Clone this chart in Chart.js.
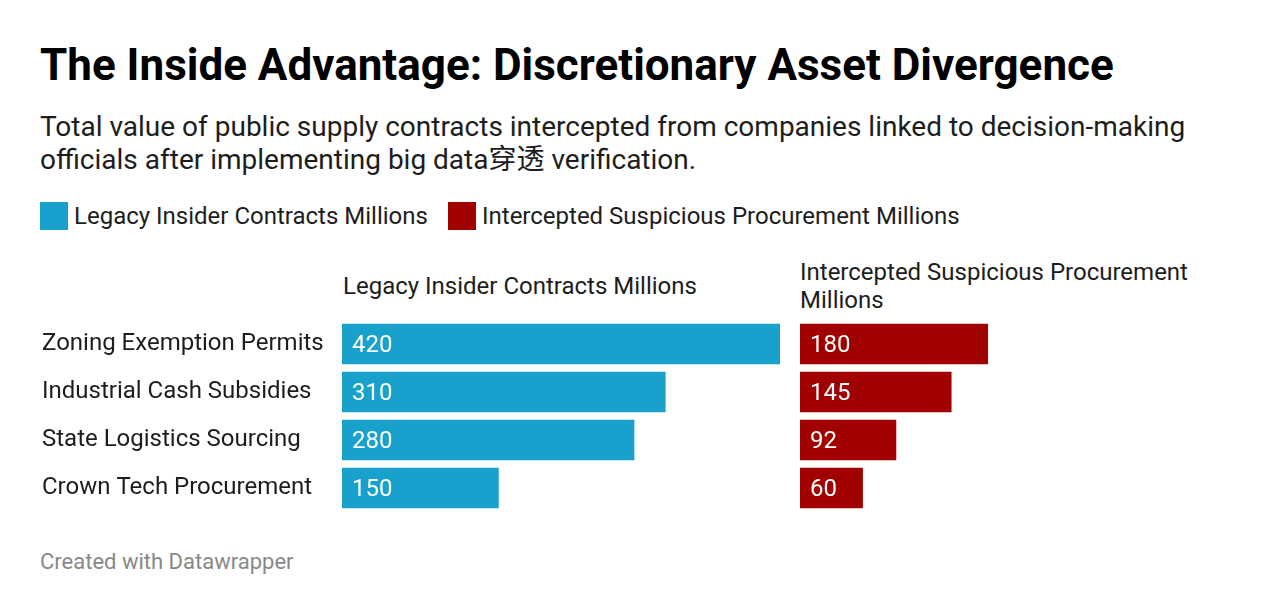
<!DOCTYPE html>
<html>
<head>
<meta charset="utf-8">
<script src="https://cdn.jsdelivr.net/npm/chart.js@4"></script>
<style>
  html, body { margin:0; padding:0; background:#fff; }
  body { width:1280px; height:614px; position:relative; overflow:hidden; font-family: Roboto, "Noto Sans CJK SC", sans-serif; color:#1d1d1d; }
  .abs { position:absolute; white-space:nowrap; }
  #title { left:40px; top:39px; font-size:44px; font-weight:700; color:#000; line-height:52px; }
  #subtitle { left:40px; top:110px; font-size:28px; line-height:33px; color:#1d1d1d; white-space:normal; width:1200px; }
  .legend { top:201px; font-size:24px; line-height:30px; display:flex; align-items:center; }
  .sw { width:28px; height:28px; display:inline-block; margin-right:6px; }
  .hdr { font-size:24px; line-height:28px; color:#1d1d1d; }
  #footer { left:40px; top:548px; font-size:22px; color:#888; line-height:28px; }
  canvas { display:block; }
</style>
</head>
<body>
<div id="title" class="abs"></div>
<div id="subtitle" class="abs"></div>
<div id="legend1" class="abs legend"></div>
<div id="legend2" class="abs legend"></div>
<div id="hdr1" class="abs hdr" style="left:343px; top:272px;"></div>
<div id="hdr2" class="abs hdr" style="left:800px; top:258px;"></div>
<div class="abs" style="left:42px; top:320px; width:738px; height:192px;"><canvas id="c1"></canvas></div>
<div class="abs" style="left:800px; top:320px; width:438px; height:192px;"><canvas id="c2"></canvas></div>
<div id="footer" class="abs"></div>
<script>
const titleText = "The Inside Advantage: Discretionary Asset Divergence";
const subtitleText = "Total value of public supply contracts intercepted from companies linked to decision-making officials after implementing big data穿透 verification.";
const categories = ["Zoning Exemption Permits", "Industrial Cash Subsidies", "State Logistics Sourcing", "Crown Tech Procurement"];
const seriesNames = ["Legacy Insider Contracts Millions", "Intercepted Suspicious Procurement Millions"];
const legacyValues = [420, 310, 280, 150];
const interceptedValues = [180, 145, 92, 60];
const colors = ["#18a1cd", "#a00000"];
const footerText = "Created with Datawrapper";
const axisMax = 420;

document.getElementById('title').textContent = titleText;
document.getElementById('subtitle').textContent = subtitleText;
document.getElementById('footer').textContent = footerText;
document.getElementById('hdr1').textContent = seriesNames[0];
document.getElementById('hdr2').innerHTML = "Intercepted Suspicious Procurement<br>Millions";

const l1 = document.getElementById('legend1');
l1.style.left = '40px';
l1.innerHTML = '<span class="sw" style="background:' + colors[0] + '"></span>' + seriesNames[0];
const l2 = document.getElementById('legend2');
l2.style.left = '448px';
l2.innerHTML = '<span class="sw" style="background:' + colors[1] + '"></span>' + seriesNames[1];

const valueLabels = {
  id: 'valueLabels',
  afterDatasetsDraw(chart) {
    const ctx = chart.ctx;
    ctx.save();
    ctx.font = '24px Roboto';
    ctx.fillStyle = '#ffffff';
    ctx.textAlign = 'left';
    ctx.textBaseline = 'middle';
    chart.data.datasets.forEach((ds, di) => {
      chart.getDatasetMeta(di).data.forEach((bar, i) => {
        ctx.fillText(String(ds.data[i]), bar.base + 10, bar.y + 2);
      });
    });
    ctx.restore();
  }
};

function makeChart(id, values, color, showLabels) {
  return new Chart(document.getElementById(id), {
    type: 'bar',
    data: {
      labels: categories,
      datasets: [{ data: values, backgroundColor: color, barThickness: 40 }]
    },
    options: {
      indexAxis: 'y',
      responsive: true,
      maintainAspectRatio: false,
      animation: false,
      layout: { padding: 0 },
      plugins: { legend: { display: false }, tooltip: { enabled: false }, title: { display: false } },
      scales: {
        x: { display: false, min: 0, max: axisMax },
        y: {
          display: showLabels,
          grid: { display: false, drawTicks: false },
          border: { display: false },
          ticks: { crossAlign: 'far', color: '#1d1d1d', font: { family: 'Roboto', size: 24 }, padding: 0 },
          afterFit(scale) {
            scale.width = showLabels ? 300 : 0;
            scale.paddingTop = 0;
            scale.paddingBottom = 0;
          }
        }
      }
    },
    plugins: [valueLabels]
  });
}

makeChart('c1', legacyValues, colors[0], true);
makeChart('c2', interceptedValues, colors[1], false);
</script>
</body>
</html>
